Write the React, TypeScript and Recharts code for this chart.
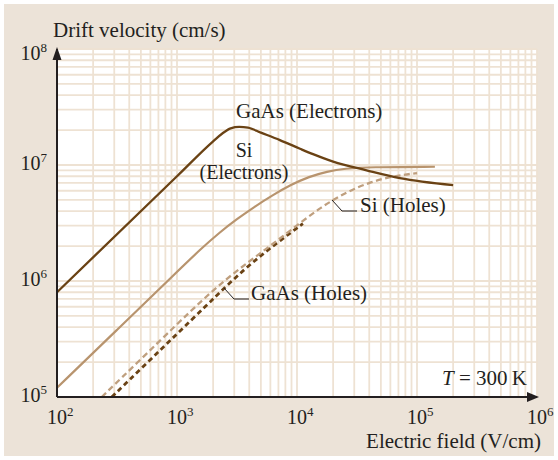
import React from 'react';
import {
  ComposedChart,
  Line,
  XAxis,
  YAxis,
  CartesianGrid,
  ReferenceDot,
} from 'recharts';

// Drift velocity vs. electric field at 300 K (log–log)

// GaAs electrons
const gaasElectronField = [100, 1000, 2000, 2400, 2800, 3300, 3900, 5000, 7200, 10600, 13600, 20000, 38000, 72000, 200000];
const gaasElectronVelocity = [8.0e5, 8.0e6, 1.6e7, 1.88e7, 2.07e7, 2.13e7, 2.1e7, 1.9e7, 1.64e7, 1.38e7, 1.24e7, 1.07e7, 9.0e6, 7.7e6, 6.7e6];

// Si electrons
const siElectronField = [100, 316, 1000, 1580, 2240, 3160, 4470, 6310, 8910, 12600, 17800, 25100, 39800, 141000];
const siElectronVelocity = [1.2e5, 3.79e5, 1.2e6, 1.89e6, 2.6e6, 3.42e6, 4.4e6, 5.52e6, 6.76e6, 7.94e6, 8.8e6, 9.33e6, 9.6e6, 9.66e6];

// Si holes
const siHoleField = [236, 500, 1000, 1585, 2510, 3980, 6310, 10000, 15800, 25100, 39800, 63100, 100000];
const siHoleVelocity = [1.0e5, 2.12e5, 4.24e5, 6.68e5, 1.02e6, 1.47e6, 2.09e6, 3.02e6, 4.32e6, 5.75e6, 7.08e6, 8.04e6, 8.51e6];

// GaAs holes
const gaasHoleField = [286, 560, 1000, 1780, 2510, 3550, 5010, 7080, 11200];
const gaasHoleVelocity = [1.0e5, 1.96e5, 3.5e5, 6.23e5, 8.79e5, 1.23e6, 1.66e6, 2.19e6, 3.13e6];

// Axis labels (decades) and their exponents
const fieldDecades = [1e2, 1e3, 1e4, 1e5, 1e6];
const fieldExponents = ['2', '3', '4', '5', '6'];
const velocityDecades = [1e5, 1e6, 1e7, 1e8];
const velocityExponents = ['5', '6', '7', '8'];

const multipliers = [1, 2, 3, 4, 5, 6, 7, 8, 9];
const logGrid = (decades: number[]) => {
  const out: number[] = [];
  decades.slice(0, -1).forEach((d) => multipliers.forEach((m) => out.push(d * m)));
  out.push(decades[decades.length - 1]);
  return out;
};
const fieldGrid = logGrid(fieldDecades);
const velocityGrid = logGrid(velocityDecades);

const toPoints = (e: number[], v: number[]) => e.map((x, i) => ({ e: x, v: v[i] }));
const gaasElectrons = toPoints(gaasElectronField, gaasElectronVelocity);
const siElectrons = toPoints(siElectronField, siElectronVelocity);
const siHoles = toPoints(siHoleField, siHoleVelocity);
const gaasHoles = toPoints(gaasHoleField, gaasHoleVelocity);

const FONT = '"Liberation Serif", "Times New Roman", serif';
const INK = '#231f20';
const DARK = '#6a4214';
const LIGHT = '#b8946e';
const LIGHT_DASH = '#bf9f7e';

const closeTo = (a: number, b: number) => Math.abs(Math.log10(a) - Math.log10(b)) < 1e-6;

const FieldTick = (props: any) => {
  const { x, y, payload } = props;
  const idx = fieldDecades.findIndex((d) => closeTo(d, payload.value));
  if (idx < 0) return <g />;
  return (
    <text x={x - 10} y={y + 27} fontFamily={FONT} fontSize={20} fill={INK}>
      10
      <tspan dy={-8} fontSize={13}>
        {fieldExponents[idx]}
      </tspan>
    </text>
  );
};

const VelocityTick = (props: any) => {
  const { x, y, payload } = props;
  const idx = velocityDecades.findIndex((d) => closeTo(d, payload.value));
  if (idx < 0) return <g />;
  const base = idx === velocityDecades.length - 1 ? y + 11 : y + 5;
  return (
    <text x={x - 10} y={base} textAnchor="end" fontFamily={FONT} fontSize={20} fill={INK}>
      10
      <tspan dy={-8} fontSize={13}>
        {velocityExponents[idx]}
      </tspan>
    </text>
  );
};

const RightArrow = (p: any) => (
  <polygon points={`${p.cx + 2},${p.cy} ${p.cx - 10},${p.cy - 5} ${p.cx - 10},${p.cy + 5}`} fill={INK} />
);
const UpArrow = (p: any) => (
  <polygon points={`${p.cx},${p.cy - 2} ${p.cx - 4.5},${p.cy + 11} ${p.cx + 4.5},${p.cy + 11}`} fill={INK} />
);

const textStyle = { fontFamily: FONT, fill: INK } as const;

export default function App() {
  return (
    <div style={{ position: 'absolute', left: 0, top: 0, width: 558, height: 460, background: '#ffffff' }}>
      <div style={{ position: 'absolute', left: 4, top: 4, width: 550, height: 452, background: '#ece3d8' }} />
      <div style={{ position: 'absolute', left: 0, top: 0 }}>
        <ComposedChart width={558} height={460} margin={{ top: 49, right: 21, left: 0, bottom: 0 }}>
          <CartesianGrid
            fill="#ffffff"
            fillOpacity={1}
            stroke="#eee2d3"
            strokeWidth={1.8}
            verticalValues={fieldGrid}
            horizontalValues={velocityGrid}
          />
          <XAxis
            type="number"
            dataKey="e"
            scale="log"
            domain={[1e2, 1e6]}
            allowDataOverflow
            ticks={fieldGrid}
            interval={0}
            tick={<FieldTick />}
            tickLine={false}
            tickSize={0}
            tickMargin={0}
            height={63}
            axisLine={{ stroke: INK, strokeWidth: 2 }}
          />
          <YAxis
            type="number"
            dataKey="v"
            scale="log"
            domain={[1e5, 1e8]}
            allowDataOverflow
            ticks={velocityGrid}
            interval={0}
            tick={<VelocityTick />}
            tickLine={false}
            tickSize={0}
            tickMargin={0}
            width={57}
            axisLine={{ stroke: INK, strokeWidth: 2 }}
          />
          <Line
            data={gaasHoles}
            dataKey="v"
            type="basis"
            stroke={DARK}
            strokeWidth={2.8}
            strokeDasharray="5 3.5"
            dot={false}
            isAnimationActive={false}
          />
          <Line
            data={siHoles}
            dataKey="v"
            type="basis"
            stroke={LIGHT_DASH}
            strokeWidth={2.3}
            strokeDasharray="6 3.5"
            dot={false}
            isAnimationActive={false}
          />
          <Line
            data={siElectrons}
            dataKey="v"
            type="basis"
            stroke={LIGHT}
            strokeWidth={2.2}
            dot={false}
            isAnimationActive={false}
          />
          <Line
            data={gaasElectrons}
            dataKey="v"
            type="monotone"
            stroke={DARK}
            strokeWidth={2.3}
            dot={false}
            isAnimationActive={false}
          />
          <ReferenceDot x={1e6} y={1e5} r={0} shape={RightArrow} />
          <ReferenceDot x={1e2} y={1e8} r={0} shape={UpArrow} />
        </ComposedChart>
      </div>
      <svg
        width={558}
        height={460}
        style={{ position: 'absolute', left: 0, top: 0, pointerEvents: 'none' }}
      >
        <text x={53} y={37} fontSize={21} style={textStyle}>
          Drift velocity (cm/s)
        </text>
        <text x={541} y={448} fontSize={21} textAnchor="end" style={textStyle}>
          Electric field (V/cm)
        </text>
        <text x={442} y={385} fontSize={21} style={textStyle}>
          <tspan fontStyle="italic">T</tspan> = 300{'\u2009'}K
        </text>
        <text x={236} y={118} fontSize={21} style={textStyle}>
          GaAs (Electrons)
        </text>
        <text x={244} y={157} fontSize={20} textAnchor="middle" style={textStyle}>
          Si
        </text>
        <text x={244} y={179} fontSize={20} textAnchor="middle" style={textStyle}>
          (Electrons)
        </text>
        <polyline points="332,200 342,211 357,211" fill="none" stroke={INK} strokeWidth={1} />
        <text x={360} y={212} fontSize={21} style={textStyle}>
          Si (Holes)
        </text>
        <polyline points="224,288 234,299 249,299" fill="none" stroke={INK} strokeWidth={1} />
        <text x={251} y={300} fontSize={21} style={textStyle}>
          GaAs (Holes)
        </text>
      </svg>
    </div>
  );
}
